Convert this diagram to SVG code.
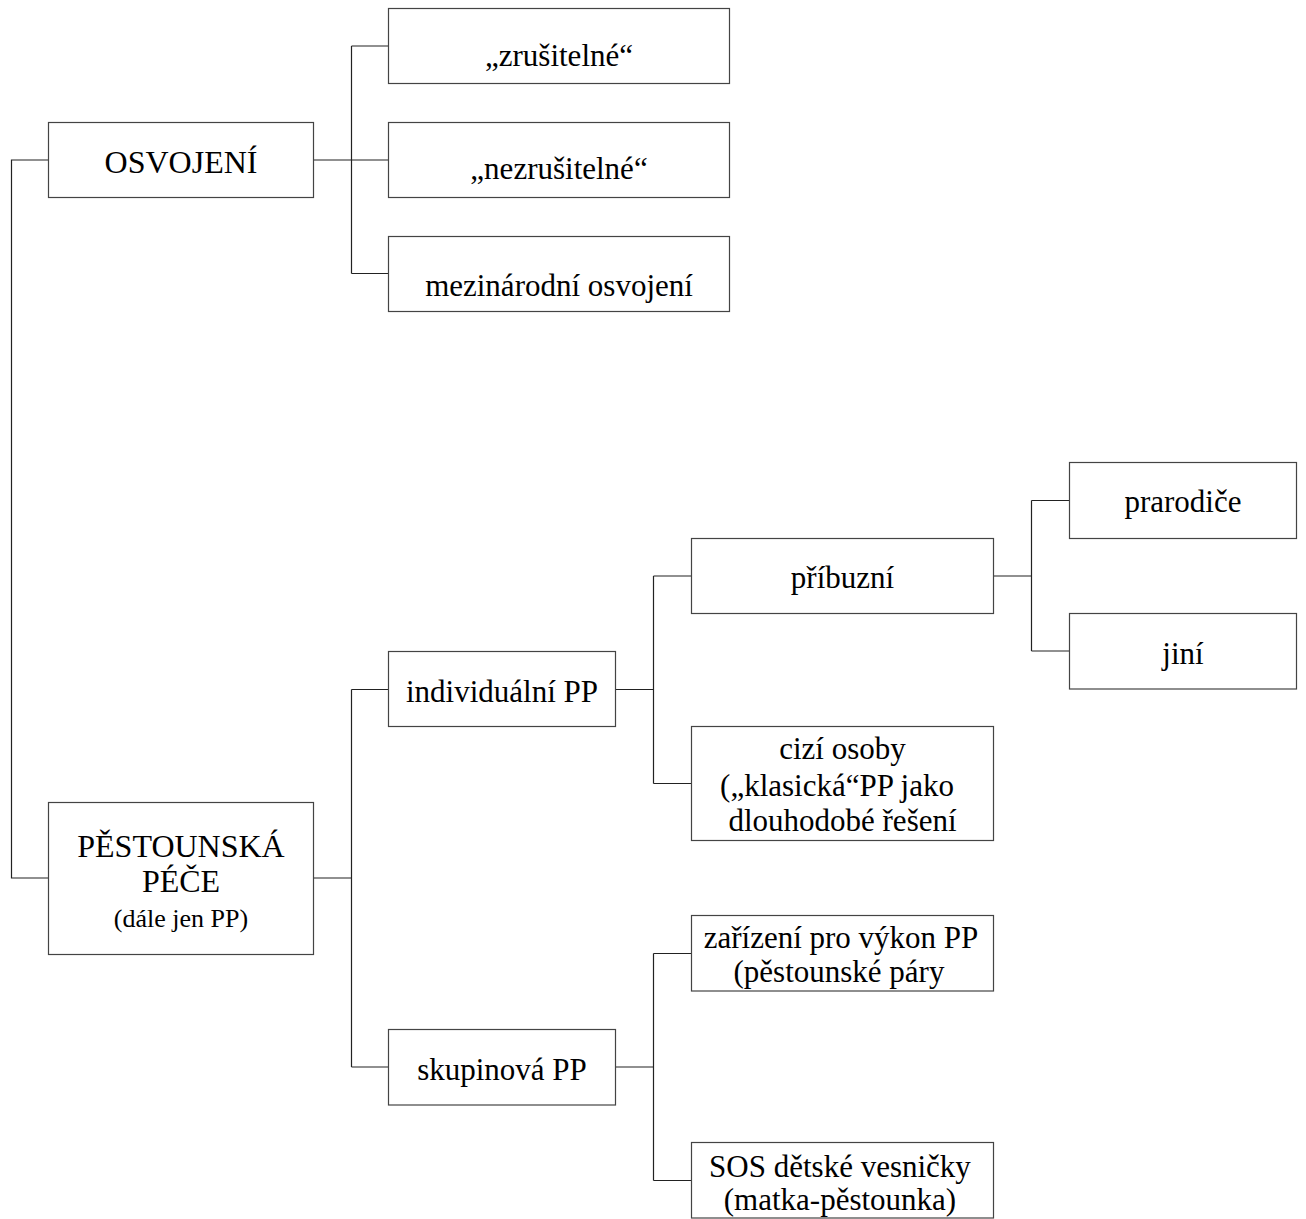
<svg xmlns="http://www.w3.org/2000/svg" width="1306" height="1219" viewBox="0 0 1306 1219">
<style>
.box{fill:#fff;stroke:#444;stroke-width:1.2}
.c{fill:none;stroke:#222;stroke-width:1.2}
text{font-family:"Liberation Serif","Times New Roman",serif;font-size:31px;fill:#000;text-anchor:middle}
.big{font-size:32px}
.small{font-size:26px}
</style>
<rect width="1306" height="1219" fill="#fff"/>
<g id="connectors">
<path class="c" d="M48.5,160 H11.5 V878 H48.5"/>
<path class="c" d="M313.5,160 H351.5 M351.5,46 V273.5 M351.5,46 H388.5 M351.5,160 H388.5 M351.5,273.5 H388.5"/>
<path class="c" d="M313.5,878 H351.5 M351.5,689.5 V1067 M351.5,689.5 H388.5 M351.5,1067 H388.5"/>
<path class="c" d="M615.5,689.5 H653.5 M653.5,576 V783.5 M653.5,576 H691.5 M653.5,783.5 H691.5"/>
<path class="c" d="M993.5,576 H1031.5 M1031.5,500.5 V651 M1031.5,500.5 H1069.5 M1031.5,651 H1069.5"/>
<path class="c" d="M615.5,1067 H653.5 M653.5,953.5 V1180.5 M653.5,953.5 H691.5 M653.5,1180.5 H691.5"/>
</g>
<g id="osvojeni"><rect class="box" x="48.5" y="122.5" width="265" height="75"/><text class="big" x="181" y="172.5">OSVOJENÍ</text></g>
<g id="zrusitelne"><rect class="box" x="388.5" y="8.5" width="341" height="75"/><text x="559" y="65.5">„zrušitelné“</text></g>
<g id="nezrusitelne"><rect class="box" x="388.5" y="122.5" width="341" height="75"/><text x="559" y="179">„nezrušitelné“</text></g>
<g id="mezinarodni"><rect class="box" x="388.5" y="236.5" width="341" height="75"/><text x="559" y="295.5">mezinárodní osvojení</text></g>
<g id="pestounska"><rect class="box" x="48.5" y="802.5" width="265" height="152"/><text class="big" x="181" y="856.5">PĚSTOUNSKÁ</text><text class="big" x="181" y="891.5">PÉČE</text><text class="small" x="181" y="926.5">(dále jen PP)</text></g>
<g id="individualni"><rect class="box" x="388.5" y="651.5" width="227" height="75"/><text x="502" y="701.5">individuální PP</text></g>
<g id="skupinova"><rect class="box" x="388.5" y="1029.5" width="227" height="75.5"/><text x="502" y="1080">skupinová PP</text></g>
<g id="pribuzni"><rect class="box" x="691.5" y="538.5" width="302" height="75"/><text x="842.5" y="587.5">příbuzní</text></g>
<g id="cizi"><rect class="box" x="691.5" y="726.5" width="302" height="114"/><text x="842.5" y="759">cizí osoby</text><text x="837" y="795.5">(„klasická“PP jako</text><text x="842.5" y="831">dlouhodobé řešení</text></g>
<g id="prarodice"><rect class="box" x="1069.5" y="462.5" width="227" height="76"/><text x="1183" y="511.5">prarodiče</text></g>
<g id="jini"><rect class="box" x="1069.5" y="613.5" width="227" height="75.5"/><text x="1183" y="663.5">jiní</text></g>
<g id="zarizeni"><rect class="box" x="691.5" y="915.5" width="302" height="75.5"/><text x="841" y="947.5">zařízení pro výkon PP</text><text x="839" y="981.5">(pěstounské páry</text></g>
<g id="sos"><rect class="box" x="691.5" y="1142.5" width="302" height="75.5"/><text x="840" y="1176.5">SOS dětské vesničky</text><text x="840" y="1210">(matka-pěstounka)</text></g>
</svg>
